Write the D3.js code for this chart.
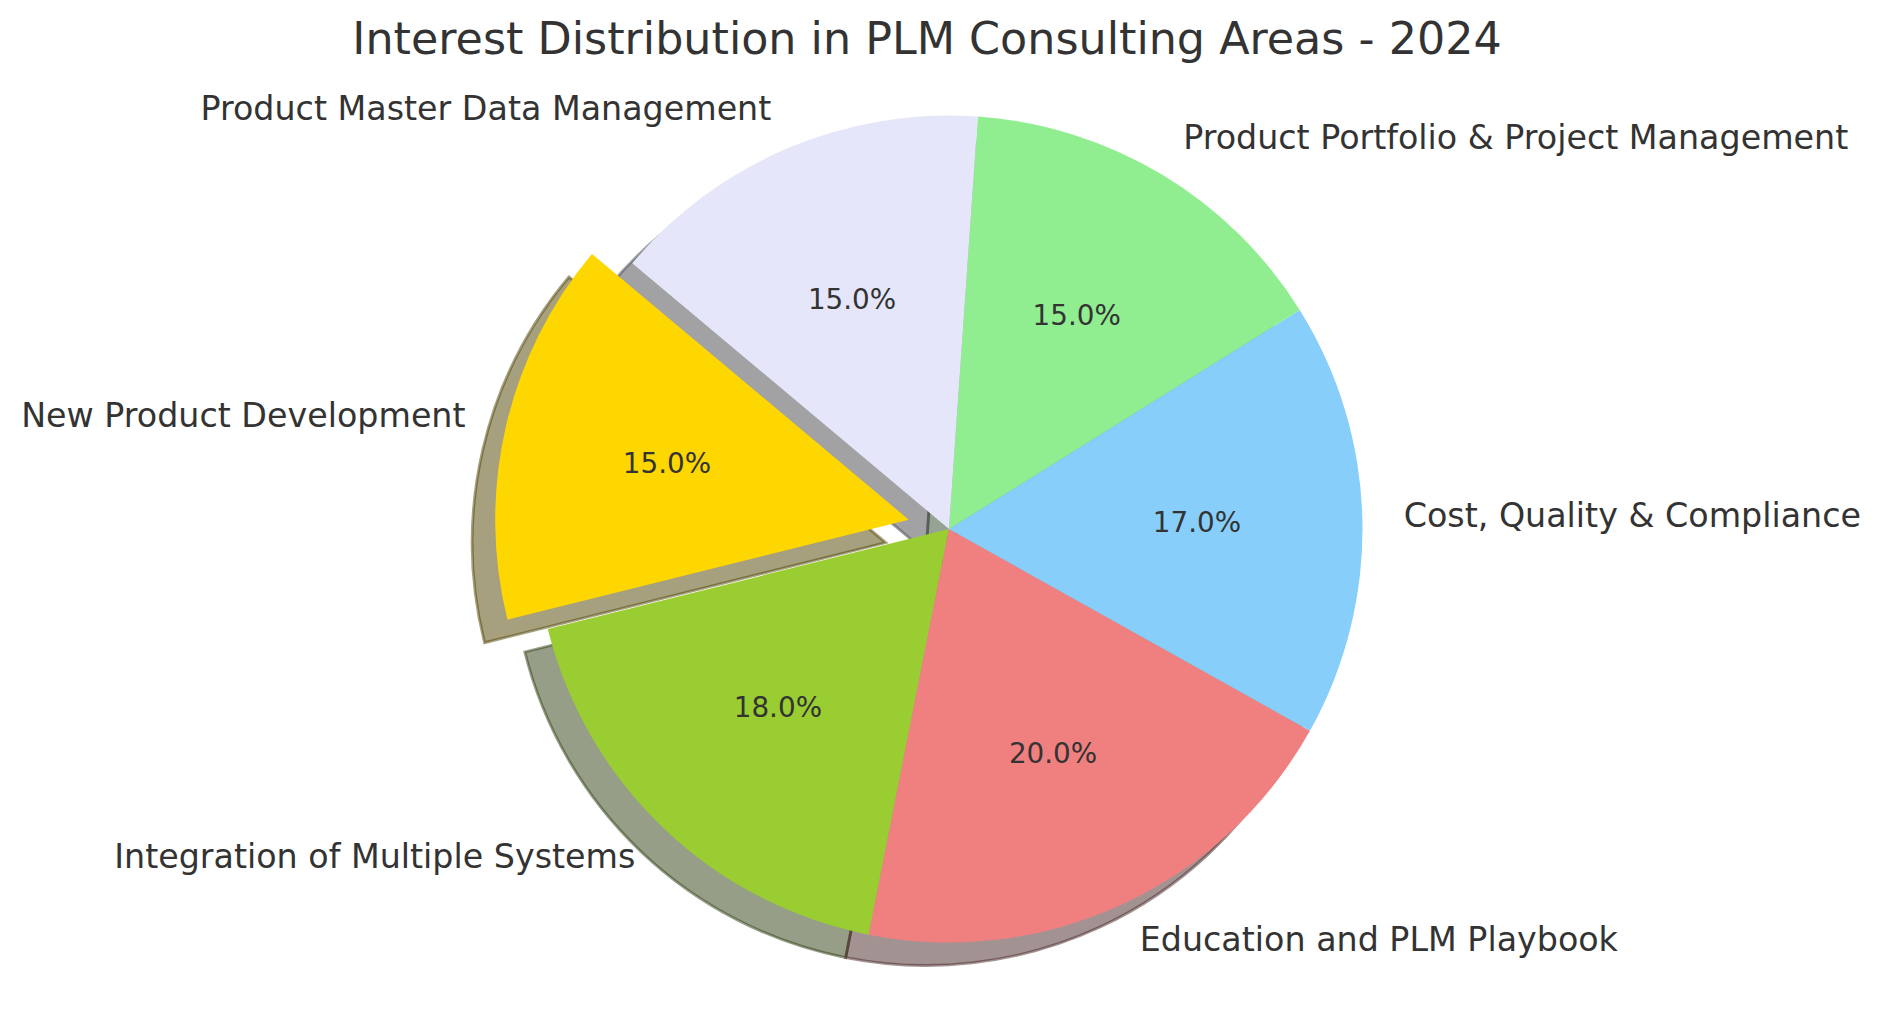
<!DOCTYPE html>
<html>
<head>
<meta charset="utf-8">
<script src="https://cdn.jsdelivr.net/npm/d3@7"></script>
<style>
    html, body { margin: 0; padding: 0; background: #fff; }
    svg { display: block; font-family: "DejaVu Sans", sans-serif; }
</style>
</head>
<body>
<div id="chart"></div>
<script>
// slices in drawing order (counter-clockwise from 140 degrees)
var labels = [
    "New Product Development",
    "Integration of Multiple Systems",
    "Education and PLM Playbook",
    "Cost, Quality & Compliance",
    "Product Portfolio & Project Management",
    "Product Master Data Management"
];
var values = [15, 18, 20, 17, 15, 15];
var colors = ["gold", "yellowgreen", "lightcoral", "lightskyblue", "lightgreen", "lavender"];
var explode = [0.1, 0, 0, 0, 0, 0];
var title = "Interest Distribution in PLM Consulting Areas - 2024";

var width = 1882, height = 1014;
var cx = 949, cy = 529, radius = 413.5;
var startAngle = 140;           // degrees, matplotlib style
var shadowShift = radius * 0.02 * 200 / 72;
var textColor = "#333333";

var data = labels.map(function (d, i) {
    return {label: d, value: values[i], color: colors[i], explode: explode[i]};
});

// matplotlib angle -> d3 angle (clockwise from 12 o'clock)
var a0 = (90 - startAngle) * Math.PI / 180;
var pie = d3.pie()
    .sort(null)
    .value(function (d) { return d.value; })
    .startAngle(a0)
    .endAngle(a0 - 2 * Math.PI);

var arcs = pie(data);
var total = d3.sum(values);

var arc = d3.arc().innerRadius(0).outerRadius(radius);

function mid(d) { return (d.startAngle + d.endAngle) / 2; }
function offset(d) {
    var m = mid(d), r = d.data.explode * radius;
    return [r * Math.sin(m), -r * Math.cos(m)];
}

var svg = d3.select("#chart")
    .append("svg")
    .attr("width", width)
    .attr("height", height);

var g = svg.append("g").attr("transform", "translate(" + cx + "," + cy + ")");

// shadows first, under every wedge
g.selectAll("path.shadow")
    .data(arcs)
    .enter()
    .append("path")
    .attr("class", "shadow")
    .attr("d", arc)
    .attr("transform", function (d) {
        var o = offset(d);
        return "translate(" + (o[0] - shadowShift) + "," + (o[1] + shadowShift) + ")";
    })
    .each(function (d) {
        var c = d3.rgb(d.data.color);
        var s = d3.rgb(c.r * 0.3, c.g * 0.3, c.b * 0.3).toString();
        d3.select(this)
            .attr("fill", s)
            .attr("fill-opacity", 0.5)
            .attr("stroke", s)
            .attr("stroke-opacity", 0.5)
            .attr("stroke-width", 2.8)
            .attr("stroke-linejoin", "miter");
    });

g.selectAll("path.wedge")
    .data(arcs)
    .enter()
    .append("path")
    .attr("class", "wedge")
    .attr("d", arc)
    .attr("fill", function (d) { return d.data.color; })
    .attr("transform", function (d) {
        var o = offset(d);
        return "translate(" + o[0] + "," + o[1] + ")";
    });

// outer labels at 1.1 r
var labelSize = 33.3;
g.selectAll("text.label")
    .data(arcs)
    .enter()
    .append("text")
    .attr("class", "label")
    .attr("x", function (d) { return offset(d)[0] + 1.1 * radius * Math.sin(mid(d)); })
    .attr("y", function (d) { return offset(d)[1] - 1.1 * radius * Math.cos(mid(d)) + 0.285 * labelSize; })
    .attr("text-anchor", function (d) { return Math.sin(mid(d)) > 0 ? "start" : "end"; })
    .style("font-size", labelSize + "px")
    .attr("fill", textColor)
    .text(function (d) { return d.data.label; });

// percentages at 0.6 r
var pctSize = 27.8;
g.selectAll("text.pct")
    .data(arcs)
    .enter()
    .append("text")
    .attr("class", "pct")
    .attr("x", function (d) { return offset(d)[0] + 0.6 * radius * Math.sin(mid(d)); })
    .attr("y", function (d) { return offset(d)[1] - 0.6 * radius * Math.cos(mid(d)) + 0.31 * pctSize; })
    .attr("text-anchor", "middle")
    .style("font-size", pctSize + "px")
    .attr("fill", textColor)
    .text(function (d) { return (100 * d.data.value / total).toFixed(1) + "%"; });

svg.append("text")
    .attr("x", 927)
    .attr("y", 54)
    .attr("text-anchor", "middle")
    .style("font-size", "44.4px")
    .attr("fill", textColor)
    .text(title);
</script>
</body>
</html>
